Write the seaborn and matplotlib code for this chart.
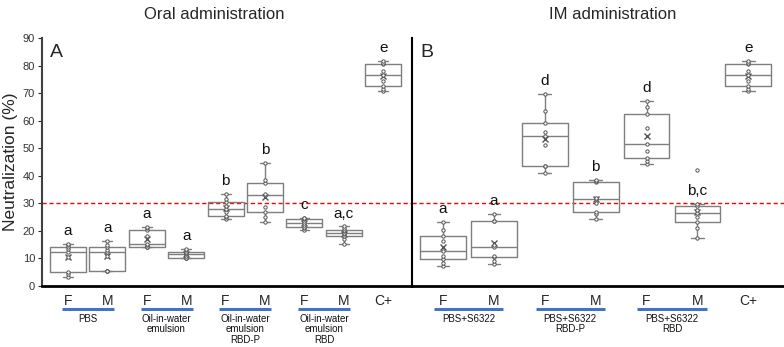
import numpy as np
import pandas as pd
import matplotlib
matplotlib.use("Agg")
import matplotlib.pyplot as plt
import matplotlib.transforms as mtransforms
import seaborn as sns

# --- data (neutralization %, one list per box) ---
oral_groups = ["PBS F", "PBS M", "OW F", "OW M", "OW RBD-P F", "OW RBD-P M",
               "OW RBD F", "OW RBD M", "C+"]
oral_ticklabels = ["F", "M", "F", "M", "F", "M", "F", "M", "C+"]
oral_values = [
    [3.3, 4.2, 5.0, 10.5, 12.4, 13.5, 14.3, 14.8, 15.3],
    [5.3, 5.3, 5.3, 11.0, 12.4, 13.0, 14.3, 15.0, 16.4],
    [14.0, 14.2, 14.3, 14.8, 15.2, 18.0, 20.4, 21.0, 21.4],
    [10.3, 10.3, 10.3, 11.0, 11.5, 12.0, 12.4, 12.9, 13.4],
    [24.4, 25.0, 25.5, 27.0, 28.0, 29.0, 30.5, 31.5, 33.4],
    [23.4, 25.0, 27.0, 28.5, 33.0, 33.5, 37.4, 38.5, 44.8],
    [20.4, 21.0, 21.5, 22.2, 22.9, 23.5, 24.3, 24.6, 24.8],
    [15.3, 17.0, 18.3, 18.7, 19.1, 19.8, 20.4, 21.0, 21.6],
    [70.7, 71.5, 72.5, 74.5, 76.7, 78.0, 80.6, 81.0, 81.6],
]
oral_letters = ["a", "a", "a", "a", "b", "b", "c", "a,c", "e"]
oral_pairs = [(0, 1), (2, 3), (4, 5), (6, 7)]
oral_pair_names = ["PBS", "Oil-in-water\nemulsion", "Oil-in-water\nemulsion\nRBD-P",
                   "Oil-in-water\nemulsion\nRBD"]

im_groups = ["S F", "S M", "S RBD-P F", "S RBD-P M", "S RBD F", "S RBD M", "C+"]
im_ticklabels = ["F", "M", "F", "M", "F", "M", "C+"]
im_values = [
    [7.4, 8.5, 9.8, 11.0, 12.6, 16.5, 18.3, 20.4, 23.4],
    [8.0, 9.0, 10.4, 11.0, 14.1, 15.0, 23.6, 23.6, 26.1],
    [41.0, 43.5, 43.5, 51.0, 54.5, 56.0, 59.1, 63.5, 69.6],
    [24.4, 26.0, 26.7, 30.0, 31.4, 32.0, 37.6, 38.0, 38.6],
    [44.4, 45.5, 46.3, 49.0, 51.4, 57.4, 62.5, 65.0, 67.3],
    [17.5, 21.0, 23.2, 25.2, 26.6, 27.5, 28.9, 29.6, 42.0],
    [70.7, 71.5, 72.5, 74.5, 76.7, 78.0, 80.6, 81.0, 81.6],
]
im_letters = ["a", "a", "d", "b", "d", "b,c", "e"]
im_pairs = [(0, 1), (2, 3), (4, 5)]
im_pair_names = ["PBS+S6322", "PBS+S6322\nRBD-P", "PBS+S6322\nRBD"]

threshold = 30


def to_frame(groups, values):
    rows = [(g, v) for g, vals in zip(groups, values) for v in vals]
    return pd.DataFrame(rows, columns=["group", "neut"])


def whisker_top(vals):
    q1, q3 = np.percentile(vals, [25, 75])
    fence = q3 + 1.5 * (q3 - q1)
    return max(v for v in vals if v <= fence)


def draw_panel(ax, groups, values, ticklabels, letters, pairs, pair_names,
               tag, width, xlim, half):
    df = to_frame(groups, values)
    sns.boxplot(data=df, x="group", y="neut", order=groups, ax=ax, width=width,
                fill=False, color="#7f7f7f", linewidth=1.0, showfliers=False,
                showmeans=True, capwidths=0.25,
                meanprops=dict(marker="x", markeredgecolor="#555555",
                               markersize=5, markeredgewidth=1.0))
    sns.stripplot(data=df, x="group", y="neut", order=groups, ax=ax,
                  jitter=False, color="white", edgecolor="#555555",
                  linewidth=0.7, size=2.4, zorder=4)
    ax.axhline(threshold, color="red", ls=(0, (3, 2)), lw=1.0, zorder=1)

    for i, (vals, lab) in enumerate(zip(values, letters)):
        ax.text(i, whisker_top(vals) + 4.7, lab, ha="center", va="center",
                fontsize=11, color="#111111")

    trans = mtransforms.blended_transform_factory(ax.transData, ax.transAxes)
    for (i, j), name in zip(pairs, pair_names):
        mid = (i + j) / 2
        ax.plot([mid - half, mid + half], [-0.093, -0.093], transform=trans,
                color="#4472C4", lw=2.2, clip_on=False, solid_capstyle="butt")
        ax.text(mid, -0.113, name, transform=trans, ha="center", va="top",
                fontsize=7, linespacing=1.05, color="#111111")

    ax.set_xlim(*xlim)
    ax.set_ylim(0, 90)
    ax.set_xticks(range(len(groups)))
    ax.set_xticklabels(ticklabels, fontsize=10)
    ax.tick_params(axis="x", length=0, pad=6)
    ax.set_xlabel("")
    ax.set_ylabel("")
    ax.text(0.022, 0.975, tag, transform=ax.transAxes, fontsize=14,
            va="top", ha="left")
    for s in ["top", "right"]:
        ax.spines[s].set_visible(False)
    ax.spines["bottom"].set_color("black")
    ax.spines["bottom"].set_linewidth(2)


sns.set_style("white")
plt.rcParams["font.family"] = ["Liberation Sans", "DejaVu Sans"]

fig = plt.figure(figsize=(7.84, 3.47), dpi=100)
ax1 = fig.add_axes([42 / 784, 1 - 286 / 347, 370 / 784, 248 / 347])
ax2 = fig.add_axes([412 / 784, 1 - 286 / 347, 372 / 784, 248 / 347], sharey=ax1)

draw_panel(ax1, oral_groups, oral_values, oral_ticklabels, oral_letters,
           oral_pairs, oral_pair_names, "A", 0.91, (-0.66, 8.73), 0.66)
draw_panel(ax2, im_groups, im_values, im_ticklabels, im_letters,
           im_pairs, im_pair_names, "B", 0.9, (-0.61, 6.7), 0.68)

ax1.set_yticks(range(0, 91, 10))
ax1.tick_params(axis="y", length=3, width=0.8, pad=2, labelsize=8,
                labelcolor="#333333", left=True)
for lab in ax1.get_yticklabels():
    lab.set_family(["Liberation Sans Narrow", "Liberation Sans"])
ax1.spines["left"].set_color("#404040")
ax1.spines["left"].set_linewidth(1.5)
ax2.spines["left"].set_color("black")
ax2.spines["left"].set_linewidth(1.5)
ax2.tick_params(axis="y", left=False, labelleft=False)

fig.text(0.273, 0.957, "Oral administration", ha="center", va="center", fontsize=12)
fig.text(0.782, 0.957, "IM administration", ha="center", va="center", fontsize=12)
fig.text(0.014, 0.533, "Neutralization (%)", rotation=90, ha="center",
         va="center", fontsize=12.5)

fig.savefig("out.png", dpi=100)
plt.close(fig)
